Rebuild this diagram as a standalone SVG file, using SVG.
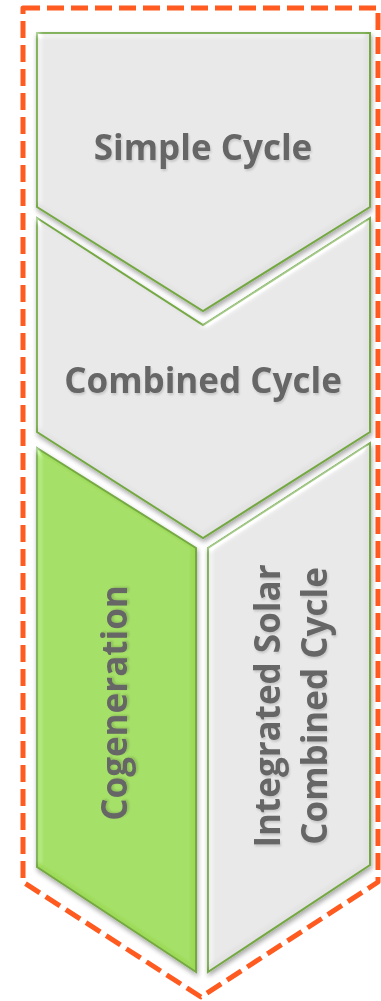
<svg xmlns="http://www.w3.org/2000/svg" width="381" height="1001" viewBox="0 0 381 1001">
  <style>
    .lbl { font-family: "Open Sans", "Noto Sans", "Liberation Sans", sans-serif; font-weight: 700; font-size: 35px; fill: #666666; text-anchor: middle; }
    .grey { fill: #e3e3e3; stroke: #74a842; stroke-width: 2; stroke-linejoin: miter; }
    .green { fill: #9cda56; stroke: #74a842; stroke-width: 2; stroke-linejoin: miter; }
    .frame { fill: none; stroke: #ff5a1f; stroke-width: 5; stroke-dasharray: 17 7; stroke-linejoin: round; }
  </style>
  <defs>
    <!-- soft bevel plus drop shadow for the stacked chevrons -->
    <filter id="bevel" x="-10%" y="-10%" width="125%" height="125%">
      <feGaussianBlur in="SourceAlpha" stdDeviation="3" result="blur"/>
      <feSpecularLighting in="blur" surfaceScale="3" specularConstant="0.6" specularExponent="18" lighting-color="#ffffff" result="spec">
        <feDistantLight azimuth="225" elevation="40"/>
      </feSpecularLighting>
      <feComposite in="spec" in2="SourceAlpha" operator="in" result="specIn"/>
      <feComposite in="SourceGraphic" in2="specIn" operator="arithmetic" k1="0" k2="1" k3="0.45" k4="0" result="lit"/>
      <feGaussianBlur in="SourceAlpha" stdDeviation="2.5" result="sb"/>
      <feOffset in="sb" dx="1" dy="3" result="so"/>
      <feComponentTransfer in="so" result="shadow">
        <feFuncA type="linear" slope="0.35"/>
      </feComponentTransfer>
      <feMerge>
        <feMergeNode in="shadow"/>
        <feMergeNode in="lit"/>
      </feMerge>
    </filter>
    <filter id="txtShadow" x="-10%" y="-20%" width="120%" height="140%">
      <feGaussianBlur in="SourceAlpha" stdDeviation="1.2"/>
      <feOffset dx="1" dy="1.5" result="o"/>
      <feComponentTransfer in="o" result="s">
        <feFuncA type="linear" slope="0.15"/>
      </feComponentTransfer>
      <feMerge>
        <feMergeNode in="s"/>
        <feMergeNode in="SourceGraphic"/>
      </feMerge>
    </filter>
  </defs>

  <!-- dashed outline around the whole stack -->
  <path class="frame" d="M23,8 H378 V882 L201,997 L23,882 Z"/>

  <g id="integrated-solar">
    <polygon class="grey" filter="url(#bevel)" points="208,548 370,443 370,865 208,972"/>
    <g class="lbl" filter="url(#txtShadow)">
      <text transform="translate(280,706) rotate(-90)">Integrated Solar</text>
      <text transform="translate(327,706) rotate(-90)">Combined Cycle</text>
    </g>
  </g>

  <g id="cogeneration">
    <polygon class="green" filter="url(#bevel)" points="37,448 196,548 196,972 37,867"/>
    <text class="lbl" filter="url(#txtShadow)" transform="translate(127,703) rotate(-90)">Cogeneration</text>
  </g>

  <g id="combined-cycle">
    <polygon class="grey" filter="url(#bevel)" points="37,218 203,325 370,218 370,432 203,538 37,432"/>
    <text class="lbl" filter="url(#txtShadow)" x="203" y="393">Combined Cycle</text>
  </g>

  <g id="simple-cycle">
    <polygon class="grey" filter="url(#bevel)" points="37,33 370,33 370,207 203,311 37,207"/>
    <text class="lbl" filter="url(#txtShadow)" x="203" y="160">Simple Cycle</text>
  </g>

  <g id="connectors"/>
</svg>
